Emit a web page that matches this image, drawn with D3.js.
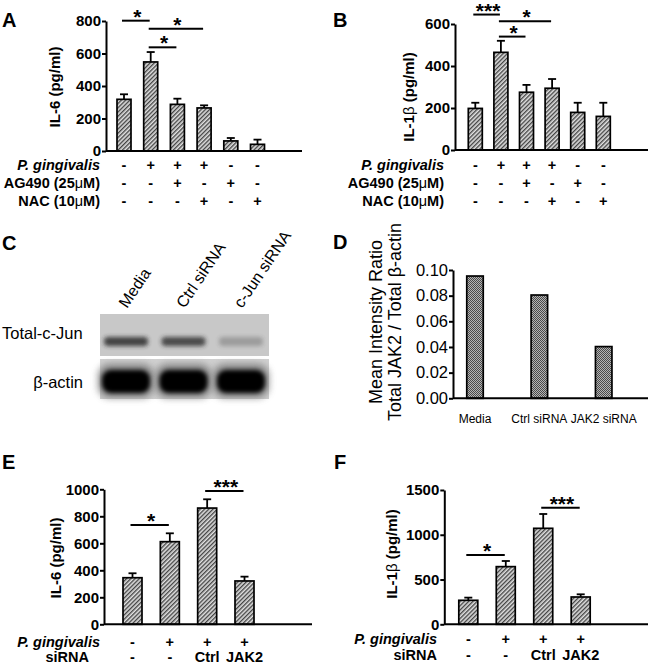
<!DOCTYPE html>
<html lang="en">
<head>
<meta charset="UTF-8">
<title>IL-6 / IL-1b figure</title>
<script src="https://cdn.jsdelivr.net/npm/d3@7/dist/d3.min.js"></script>
<style>
  body { margin: 0; background: #fff; }
  svg { display: block; font-family: "Liberation Sans", Arial, Helvetica, sans-serif; }
</style>
</head>
<body>
<svg id="fig" width="650" height="666"></svg>
<script>
// ---------- data ----------
// A / B: six treatment groups
const pgRow6   = ["-", "+", "+", "+", "-", "-"];
const agRow6   = ["-", "-", "+", "-", "+", "-"];
const nacRow6  = ["-", "-", "-", "+", "-", "+"];

const il6Means   = [318, 548, 287, 265, 62, 41];
const il6Errs    = [31, 61, 35, 16, 18, 29];
const il6Ticks   = [0, 200, 400, 600, 800];
// [from group, to group, level, stars]
const il6Sig     = [[0, 1, 802, "*"], [1, 3, 753, "*"], [1, 2, 638, "*"]];

const il1bMeans  = [198, 465, 275, 294, 179, 160];
const il1bErrs   = [27, 55, 35, 44, 46, 65];
const il1bTicks  = [0, 200, 400, 600];
const il1bSig    = [[0, 1, 645, "***"], [1, 3, 613, "*"], [1, 2, 540, "*"]];

// C: western blot
const blotLanes  = ["Media", "Ctrl siRNA", "c-Jun siRNA"];
const cJunBand   = [0.85, 0.8, 0.28];
const actinBand  = [1, 1, 1];

// D: densitometry
const jakCats    = ["Media", "Ctrl siRNA", "JAK2 siRNA"];
const jakRatio   = [0.0953, 0.0805, 0.0403];
const jakTicks   = [0, 0.02, 0.04, 0.06, 0.08, 0.10];

// E / F: four groups
const pgRow4     = ["-", "+", "+", "+"];
const siRow4     = ["-", "-", "Ctrl", "JAK2"];

const eIl6Means  = [345, 612, 861, 321];
const eIl6Errs   = [33, 62, 65, 32];
const eIl6Ticks  = [0, 200, 400, 600, 800, 1000];
const eIl6Sig    = [[0, 1, 735, "*"], [2, 3, 987, "***"]];

const fIl1bMeans = [268, 644, 1072, 305];
const fIl1bErrs  = [30, 63, 160, 30];
const fIl1bTicks = [0, 500, 1000, 1500];
const fIl1bSig   = [[0, 1, 774, "*"], [2, 3, 1303, "***"]];

// ---------- setup ----------
const svg = d3.select("#fig");
const defs = svg.append("defs");

const hatch = defs.append("pattern").attr("id", "hatch")
  .attr("patternUnits", "userSpaceOnUse").attr("width", 3).attr("height", 3)
  .attr("patternTransform", "rotate(45)");
hatch.append("rect").attr("width", 3).attr("height", 3).attr("fill", "#e0e0e0");
hatch.append("line").attr("x1", 0.7).attr("y1", 0).attr("x2", 0.7).attr("y2", 3)
  .attr("stroke", "#3c3c3c").attr("stroke-width", 1.3);

const dots = defs.append("pattern").attr("id", "dots")
  .attr("patternUnits", "userSpaceOnUse").attr("width", 2).attr("height", 2);
dots.append("rect").attr("width", 2).attr("height", 2).attr("fill", "#b4b4b4");
dots.append("rect").attr("width", 1).attr("height", 1).attr("fill", "#4a4a4a");
dots.append("rect").attr("x", 1).attr("y", 1).attr("width", 1).attr("height", 1).attr("fill", "#4a4a4a");

defs.append("filter").attr("id", "blur2").attr("x", "-30%").attr("y", "-80%").attr("width", "160%").attr("height", "260%")
  .append("feGaussianBlur").attr("stdDeviation", 2.2);
defs.append("filter").attr("id", "blur3").attr("x", "-30%").attr("y", "-80%").attr("width", "160%").attr("height", "260%")
  .append("feGaussianBlur").attr("stdDeviation", 3.5);

function panelLetter(t, x, y) {
  svg.append("text").attr("x", x).attr("y", y).attr("font-size", 20)
    .attr("font-weight", "bold").text(t);
}

function styleAxis(ax, size, weight) {
  ax.attr("font-family", null).attr("font-size", size).attr("font-weight", weight);
  ax.select(".domain").attr("stroke", "#000").attr("stroke-width", 2);
  ax.selectAll(".tick line").attr("stroke", "#000").attr("stroke-width", 2);
  ax.selectAll(".tick text").attr("fill", "#000");
}

function barPanel(o) {
  const g = svg.append("g");
  const x = d3.scalePoint().domain(d3.range(o.means.length)).range(o.xRange);
  const y = d3.scaleLinear().domain([0, o.yMax]).range([o.yBase, o.yTop]);

  // error bars (upper only)
  const eb = g.selectAll("g.err").data(o.means).join("g");
  eb.append("line")
    .attr("x1", (d, i) => x(i)).attr("x2", (d, i) => x(i))
    .attr("y1", d => y(d)).attr("y2", (d, i) => y(d + o.errs[i]))
    .attr("stroke", "#000").attr("stroke-width", 1.8);
  eb.append("line")
    .attr("x1", (d, i) => x(i) - 4).attr("x2", (d, i) => x(i) + 4)
    .attr("y1", (d, i) => y(d + o.errs[i])).attr("y2", (d, i) => y(d + o.errs[i]))
    .attr("stroke", "#000").attr("stroke-width", 1.8);

  g.selectAll("rect.bar").data(o.means).join("rect").attr("class", "bar")
    .attr("x", (d, i) => x(i) - o.barW / 2).attr("y", d => y(d))
    .attr("width", o.barW).attr("height", d => y(0) - y(d))
    .attr("fill", "url(#hatch)").attr("stroke", "#000").attr("stroke-width", 1.7);

  const ax = g.append("g").attr("transform", `translate(${o.axisX},0)`)
    .call(d3.axisLeft(y).tickValues(o.ticks).tickSize(4).tickSizeOuter(0).tickPadding(1).tickFormat(d3.format("d")));
  styleAxis(ax, 15, "bold");

  g.append("line").attr("x1", o.axisX).attr("x2", o.axisEnd)
    .attr("y1", y(0)).attr("y2", y(0)).attr("stroke", "#000").attr("stroke-width", 2);

  // y title
  const tt = g.append("text").attr("transform", `translate(${o.titleX},${o.titleY}) rotate(-90)`)
    .attr("text-anchor", "middle").attr("font-size", 15).attr("font-weight", "bold");
  tt.append("tspan").text(o.title[0]);
  if (o.title[1]) {
    tt.append("tspan").attr("font-weight", "normal").text(o.title[1]);
    tt.append("tspan").text(o.title[2]);
  }

  // significance bars
  o.sig.forEach(s => {
    const yy = y(s[2]);
    g.append("line").attr("x1", x(s[0]) - 2).attr("x2", x(s[1]) - 1)
      .attr("y1", yy).attr("y2", yy).attr("stroke", "#000").attr("stroke-width", 2);
    g.append("text").attr("x", (x(s[0]) + x(s[1])) / 2).attr("y", yy + 3)
      .attr("text-anchor", "middle").attr("font-size", 21).attr("font-weight", "bold").text(s[3]);
  });

  // treatment rows
  o.rows.forEach(r => {
    const lab = g.append("text").attr("x", r.labelX).attr("y", r.y).attr("text-anchor", "end")
      .attr("font-size", 14.5).attr("font-weight", "bold");
    r.label.forEach(p => {
      const ts = lab.append("tspan").text(p.t);
      if (p.italic) ts.attr("font-style", "italic");
      if (p.normal) ts.attr("font-weight", "normal");
    });
    g.selectAll(null).data(r.values).join("text")
      .attr("x", (d, i) => x(i)).attr("y", r.y).attr("text-anchor", "middle")
      .attr("font-size", 14.5).attr("font-weight", "bold").text(d => d);
  });
}

// ---------- A ----------
panelLetter("A", 2, 27);
barPanel({
  means: il6Means, errs: il6Errs, yMax: 800, ticks: il6Ticks, sig: il6Sig,
  xRange: [124, 257.5], barW: 14, axisX: 106, axisEnd: 302, yBase: 151, yTop: 21,
  title: ["IL-6 (pg/ml)"], titleX: 60, titleY: 87,
  rows: [
    { label: [{ t: "P. gingivalis", italic: true }], values: pgRow6, labelX: 100, y: 170 },
    { label: [{ t: "AG490 (25" }, { t: "\u03bc", normal: true }, { t: "M)" }], values: agRow6, labelX: 100, y: 188 },
    { label: [{ t: "NAC (10" }, { t: "\u03bc", normal: true }, { t: "M)" }], values: nacRow6, labelX: 100, y: 206 }
  ]
});

// ---------- B ----------
panelLetter("B", 333, 27);
barPanel({
  means: il1bMeans, errs: il1bErrs, yMax: 600, ticks: il1bTicks, sig: il1bSig,
  xRange: [475.3, 603.3], barW: 14, axisX: 455, axisEnd: 648, yBase: 150, yTop: 24,
  title: ["IL-1", "\u03b2", " (pg/ml)"], titleX: 414, titleY: 97,
  rows: [
    { label: [{ t: "P. gingivalis", italic: true }], values: pgRow6, labelX: 444, y: 170 },
    { label: [{ t: "AG490 (25" }, { t: "\u03bc", normal: true }, { t: "M)" }], values: agRow6, labelX: 444, y: 188 },
    { label: [{ t: "NAC (10" }, { t: "\u03bc", normal: true }, { t: "M)" }], values: nacRow6, labelX: 444, y: 206 }
  ]
});

// ---------- C: blot ----------
panelLetter("C", 2, 250);
(function () {
  const g = svg.append("g");
  const x = d3.scalePoint().domain(blotLanes).range([126, 241]);
  g.append("rect").attr("x", 100).attr("y", 314).attr("width", 169).attr("height", 42).attr("fill", "#c8c8c8");
  g.append("rect").attr("x", 100).attr("y", 359).attr("width", 169).attr("height", 40).attr("fill", "#d0d0d0");

  g.selectAll("rect.cjun").data(blotLanes).join("rect").attr("class", "cjun")
    .attr("x", d => x(d) - 22).attr("y", 337).attr("width", 44).attr("height", 9).attr("rx", 4)
    .attr("fill", "#2a2a2a").attr("opacity", (d, i) => cJunBand[i]).attr("filter", "url(#blur2)");

  g.selectAll("rect.halo").data(blotLanes).join("rect").attr("class", "halo")
    .attr("x", d => x(d) - 28).attr("y", 364).attr("width", 56).attr("height", 34).attr("rx", 12)
    .attr("fill", "#666").attr("opacity", (d, i) => actinBand[i] * 0.7).attr("filter", "url(#blur3)");
  g.selectAll("rect.actin").data(blotLanes).join("rect").attr("class", "actin")
    .attr("x", d => x(d) - 24).attr("y", 370).attr("width", 48).attr("height", 23).attr("rx", 9)
    .attr("fill", "#000").attr("opacity", (d, i) => actinBand[i]).attr("filter", "url(#blur2)");

  g.selectAll("text.lane").data(blotLanes).join("text").attr("class", "lane")
    .attr("transform", d => `translate(${x(d) + 1},309) rotate(-56)`)
    .attr("font-size", 16).text(d => d);

  g.append("text").attr("x", 2).attr("y", 339).attr("font-size", 16.5).text("Total-c-Jun");
  g.append("text").attr("x", 83).attr("y", 388).attr("text-anchor", "end").attr("font-size", 16.5).text("\u03b2-actin");
})();

// ---------- D ----------
panelLetter("D", 333, 249);
(function () {
  const g = svg.append("g");
  const x = d3.scalePoint().domain(jakCats).range([475, 603.7]);
  const y = d3.scaleLinear().domain([0, 0.10]).range([398.3, 270]);
  const barW = 16.5;

  g.selectAll("rect").data(jakRatio).join("rect")
    .attr("x", (d, i) => x(jakCats[i]) - barW / 2).attr("y", d => y(d))
    .attr("width", barW).attr("height", d => y(0) - y(d))
    .attr("fill", "url(#dots)").attr("stroke", "#000").attr("stroke-width", 1.7);

  const ax = g.append("g").attr("transform", "translate(453,0)")
    .call(d3.axisLeft(y).tickValues(jakTicks).tickSize(4).tickSizeOuter(0).tickPadding(1).tickFormat(d3.format(".2f")));
  styleAxis(ax, 16.5, "normal");
  g.append("line").attr("x1", 453).attr("x2", 648).attr("y1", y(0)).attr("y2", y(0))
    .attr("stroke", "#000").attr("stroke-width", 2);

  g.selectAll("text.cat").data(jakCats).join("text").attr("class", "cat")
    .attr("x", d => x(d)).attr("y", 423).attr("text-anchor", "middle").attr("font-size", 12).text(d => d);

  g.append("text").attr("transform", "translate(382,322) rotate(-90)")
    .attr("text-anchor", "middle").attr("font-size", 18).text("Mean Intensity Ratio");
  g.append("text").attr("transform", "translate(401,322) rotate(-90)")
    .attr("text-anchor", "middle").attr("font-size", 18).text("Total JAK2 / Total \u03b2-actin");
})();

// ---------- E ----------
panelLetter("E", 2, 469);
barPanel({
  means: eIl6Means, errs: eIl6Errs, yMax: 1000, ticks: eIl6Ticks, sig: eIl6Sig,
  xRange: [132.5, 244.5], barW: 19, axisX: 104, axisEnd: 312, yBase: 624.3, yTop: 489.3,
  title: ["IL-6 (pg/ml)"], titleX: 61, titleY: 558,
  rows: [
    { label: [{ t: "P. gingivalis", italic: true }], values: pgRow4, labelX: 100, y: 647 },
    { label: [{ t: "siRNA" }], values: siRow4, labelX: 89, y: 662 }
  ]
});

// ---------- F ----------
panelLetter("F", 334, 469);
barPanel({
  means: fIl1bMeans, errs: fIl1bErrs, yMax: 1500, ticks: fIl1bTicks, sig: fIl1bSig,
  xRange: [468.3, 580.7], barW: 19, axisX: 444.3, axisEnd: 648, yBase: 624.3, yTop: 490,
  title: ["IL-1", "\u03b2", " (pg/ml)"], titleX: 397, titleY: 554,
  rows: [
    { label: [{ t: "P. gingivalis", italic: true }], values: pgRow4, labelX: 437, y: 644 },
    { label: [{ t: "siRNA" }], values: siRow4, labelX: 437, y: 659.5 }
  ]
});
</script>
</body>
</html>
